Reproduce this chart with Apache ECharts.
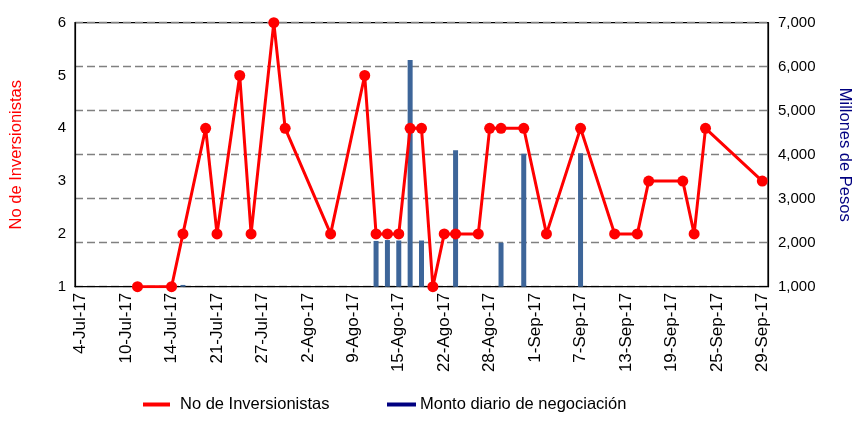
<!DOCTYPE html>
<html>
<head>
<meta charset="utf-8">
<script src="https://cdn.jsdelivr.net/npm/echarts@6/dist/echarts.min.js"></script>
<style>
  html, body { margin: 0; padding: 0; background: #fff; }
  #chart { width: 856px; height: 428px; }
</style>
</head>
<body>
<div id="chart"></div>
<script>
// Trading-day categories (x axis)
var categories = [
  '4-Jul-17','5-Jul-17','6-Jul-17','7-Jul-17','10-Jul-17','11-Jul-17','12-Jul-17','13-Jul-17','14-Jul-17',
  '17-Jul-17','18-Jul-17','19-Jul-17','21-Jul-17','24-Jul-17','25-Jul-17','26-Jul-17','27-Jul-17','28-Jul-17',
  '31-Jul-17','1-Ago-17','2-Ago-17','3-Ago-17','4-Ago-17','7-Ago-17','9-Ago-17','10-Ago-17','11-Ago-17',
  '14-Ago-17','15-Ago-17','16-Ago-17','17-Ago-17','18-Ago-17','22-Ago-17','23-Ago-17','24-Ago-17','25-Ago-17',
  '28-Ago-17','29-Ago-17','30-Ago-17','31-Ago-17','1-Sep-17','4-Sep-17','5-Sep-17','6-Sep-17','7-Sep-17',
  '8-Sep-17','11-Sep-17','12-Sep-17','13-Sep-17','14-Sep-17','15-Sep-17','18-Sep-17','19-Sep-17','20-Sep-17',
  '21-Sep-17','22-Sep-17','25-Sep-17','26-Sep-17','27-Sep-17','28-Sep-17','29-Sep-17'
];

// No de Inversionistas (line, left axis)
var investorDates = [
  '11-Jul-17','14-Jul-17','17-Jul-17','19-Jul-17','21-Jul-17','25-Jul-17','26-Jul-17','28-Jul-17','31-Jul-17',
  '4-Ago-17','10-Ago-17','11-Ago-17','14-Ago-17','15-Ago-17','16-Ago-17','17-Ago-17','18-Ago-17','22-Ago-17',
  '23-Ago-17','25-Ago-17','28-Ago-17','29-Ago-17','31-Ago-17','4-Sep-17','7-Sep-17','12-Sep-17','14-Sep-17',
  '15-Sep-17','20-Sep-17','21-Sep-17','22-Sep-17','29-Sep-17'
];
var investorCounts = [
  1,1,2,4,2,5,2,6,4,
  2,5,2,2,2,4,4,1,2,
  2,2,4,4,4,2,4,2,2,
  3,3,2,4,3
];

// Monto diario de negociación (bars, right axis, millones de pesos)
var amountDates = ['17-Jul-17','11-Ago-17','14-Ago-17','15-Ago-17','16-Ago-17','17-Ago-17','23-Ago-17','29-Ago-17','31-Ago-17','7-Sep-17'];
var amountValues = [1040, 2040, 2060, 2050, 6150, 2050, 4100, 2000, 4020, 4035];

// Axis ticks
var leftTicks = { min: 1, max: 6, interval: 1 };
var rightTicks = { min: 1000, max: 7000, interval: 1000 };

var lineData = investorDates.map(function (d, i) { return [d, investorCounts[i]]; });
var barData = amountDates.map(function (d, i) { return [d, amountValues[i]]; });

var FONT = "'Liberation Sans', Arial, sans-serif";
var chart = echarts.init(document.getElementById('chart'), null, { renderer: 'canvas' });
chart.setOption({
  animation: false,
  backgroundColor: '#fff',
  textStyle: { fontFamily: FONT },
  grid: {
    left: 75, right: 88, top: 22.7, bottom: 141.3,
    containLabel: false, outerBoundsMode: 'none',
    show: true, borderColor: '#000', borderWidth: 1.2, backgroundColor: 'transparent'
  },
  legend: [
    {
      left: 143, top: 396, padding: 0,
      icon: 'rect', itemWidth: 27, itemHeight: 4,
      textStyle: { fontSize: 16.5, color: '#000', fontFamily: FONT, padding: [2, 0, 0, 5] },
      data: [{ name: 'No de Inversionistas', itemStyle: { color: '#ff0000' } }]
    },
    {
      left: 387, top: 396, padding: 0,
      icon: 'rect', itemWidth: 29, itemHeight: 4,
      textStyle: { fontSize: 16.5, color: '#000', fontFamily: FONT, padding: [6, 0, 0, -1] },
      data: [{ name: 'Monto diario de negociación', itemStyle: { color: '#000080' } }]
    }
  ],
  xAxis: {
    type: 'category',
    data: categories,
    boundaryGap: true,
    axisLine: { show: true, lineStyle: { color: '#000', width: 1.2 } },
    axisTick: { show: false },
    splitLine: { show: false },
    axisLabel: {
      interval: 3, rotate: 90, margin: 6,
      fontSize: 17, color: '#000', fontFamily: FONT
    }
  },
  yAxis: [
    {
      type: 'value',
      position: 'left',
      min: leftTicks.min, max: leftTicks.max, interval: leftTicks.interval,
      name: 'No de Inversionistas',
      nameLocation: 'middle', nameRotate: 90, nameGap: 50,
      nameTextStyle: { color: '#ff0000', fontSize: 16.5, fontFamily: FONT },
      axisLine: { show: true, lineStyle: { color: '#000', width: 1.2 } },
      axisTick: { show: false },
      splitLine: { show: false },
      axisLabel: { fontSize: 15, color: '#000', margin: 9, fontFamily: FONT }
    },
    {
      type: 'value',
      position: 'right',
      min: rightTicks.min, max: rightTicks.max, interval: rightTicks.interval,
      name: 'Millones de Pesos',
      nameLocation: 'middle', nameRotate: -90, nameGap: 68,
      nameTextStyle: { color: '#000080', fontSize: 16.5, fontFamily: FONT },
      axisLine: { show: true, lineStyle: { color: '#000', width: 1.2 } },
      axisTick: { show: false },
      splitLine: { show: true, lineStyle: { color: '#808080', width: 1.3, type: [8, 4] } },
      axisLabel: {
        fontSize: 15, color: '#000', margin: 10, fontFamily: FONT,
        formatter: function (v) { return v.toLocaleString('en-US'); }
      }
    }
  ],
  series: [
    {
      name: 'Monto diario de negociación',
      type: 'bar',
      yAxisIndex: 1,
      barWidth: 5,
      itemStyle: { color: '#3d6599' },
      data: barData,
      z: 2
    },
    {
      name: 'No de Inversionistas',
      type: 'line',
      yAxisIndex: 0,
      symbol: 'circle',
      symbolSize: 11,
      showSymbol: true,
      showAllSymbol: true,
      lineStyle: { color: '#ff0000', width: 3 },
      itemStyle: { color: '#ff0000' },
      data: lineData,
      z: 3
    }
  ]
});
</script>
</body>
</html>
